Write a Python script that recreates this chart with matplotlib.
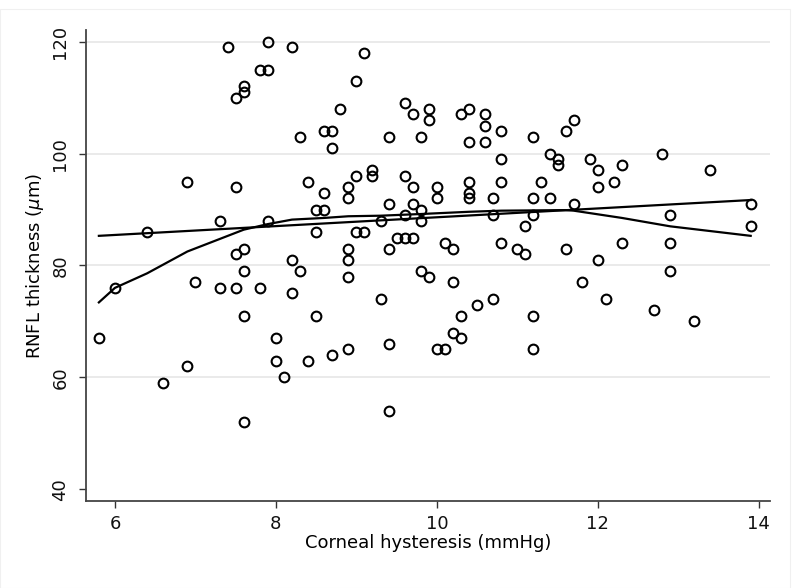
import matplotlib
matplotlib.use("Agg")
import matplotlib.pyplot as plt
from matplotlib.patches import Rectangle

# Corneal hysteresis (mmHg) and RNFL thickness (um)
ch = [7.4, 7.9, 8.2, 9.1, 7.8, 7.9, 7.6, 7.6, 7.5, 9.0, 8.8, 9.6, 9.7, 9.9, 9.9,
      8.3, 8.6, 8.7, 8.7, 9.4, 9.8, 6.9, 7.5, 8.4, 8.6, 8.9, 8.9, 9.0, 9.2, 9.2,
      9.6, 9.7, 9.4, 9.7, 9.6, 9.8, 9.8, 8.5, 8.6, 7.3, 7.9, 6.4, 8.5, 9.0, 9.1,
      9.3, 9.5, 9.6, 9.7, 9.4, 7.5, 7.6, 8.2, 8.3, 7.6, 8.9, 8.9, 8.9, 9.8, 9.9,
      6.0, 7.0, 7.3, 7.5, 7.8, 8.2, 9.3, 7.6, 8.5, 5.8, 8.0, 9.4, 8.9, 8.7, 8.4,
      8.0, 6.9, 8.1, 6.6, 9.4, 7.6,
      10.3, 10.4, 10.6, 10.6, 10.6, 10.4, 10.8, 11.2, 11.6, 11.7, 11.4, 11.5, 11.5,
      10.8, 11.9, 12.0, 12.3, 12.8, 13.4, 10.0, 10.0, 10.4, 10.4, 10.4, 10.8, 10.7,
      11.3, 11.2, 11.4, 12.0, 12.2, 11.7, 13.9, 13.9, 12.9, 10.7, 11.2, 11.1, 10.1,
      10.2, 10.8, 11.0, 11.1, 11.6, 12.0, 12.3, 12.9, 12.9, 10.2, 11.8, 10.7, 10.5,
      10.3, 11.2, 12.1, 12.7, 13.2, 10.2, 10.3, 10.0, 10.1, 11.2]
rnfl = [119, 120, 119, 118, 115, 115, 112, 111, 110, 113, 108, 109, 107, 108, 106,
        103, 104, 104, 101, 103, 103, 95, 94, 95, 93, 94, 92, 96, 97, 96,
        96, 94, 91, 91, 89, 90, 88, 90, 90, 88, 88, 86, 86, 86, 86,
        88, 85, 85, 85, 83, 82, 83, 81, 79, 79, 83, 81, 78, 79, 78,
        76, 77, 76, 76, 76, 75, 74, 71, 71, 67, 67, 66, 65, 64, 63,
        63, 62, 60, 59, 54, 52,
        107, 108, 107, 105, 102, 102, 104, 103, 104, 106, 100, 99, 98,
        99, 99, 97, 98, 100, 97, 94, 92, 95, 93, 92, 95, 92,
        95, 92, 92, 94, 95, 91, 91, 87, 89, 89, 89, 87, 84,
        83, 84, 83, 82, 83, 81, 84, 84, 79, 77, 77, 74, 73,
        71, 71, 74, 72, 70, 68, 67, 65, 65, 65]

# Linear fit line (end points)
fit_x = [5.8, 13.9]
fit_y = [85.3, 91.7]

# Lowess smoother
low_x = [5.8, 6.0, 6.4, 6.9, 7.6, 7.9, 8.2, 8.6, 8.9, 9.3, 9.8, 10.4, 10.8, 11.6, 11.7, 12.3, 12.9, 13.9]
low_y = [73.4, 76.0, 78.6, 82.5, 86.4, 87.4, 88.2, 88.5, 88.8, 88.9, 89.2, 89.6, 89.8, 89.9, 89.8, 88.5, 87.0, 85.3]

yticks = [40, 60, 80, 100, 120]
xticks = [6, 8, 10, 12, 14]

fig = plt.figure(figsize=(8, 5.88), dpi=100)
fig.patches.append(Rectangle((0.0, 0.0), 0.988, 0.984, transform=fig.transFigure,
                             fill=False, edgecolor="#f0f0f0", linewidth=0.8))
ax = fig.add_axes([0.1075, 0.148, 0.855, 0.801])
ax.set_xlim(5.64, 14.14)
ax.set_ylim(37.9, 122.1)

for g in yticks[1:]:
    ax.axhline(g, color="#e6e6e6", linewidth=1.2, zorder=0)

ax.plot(ch, rnfl, linestyle="none", marker="o", markersize=7, markerfacecolor="none",
        markeredgecolor="black", markeredgewidth=1.5, zorder=3)
ax.plot(fit_x, fit_y, color="black", linewidth=1.6, zorder=2)
ax.plot(low_x, low_y, color="black", linewidth=1.6, zorder=2)

ax.set_xticks(xticks)
ax.set_yticks(yticks)
ax.set_yticklabels([str(t) for t in yticks], rotation=90, va="center")
ax.tick_params(axis="both", labelsize=13, length=5, width=1.0, color="#333333", labelcolor="#111111")
ax.tick_params(axis="y", pad=7)
ax.tick_params(axis="x", pad=5)
for s in ["top", "right"]:
    ax.spines[s].set_visible(False)
for s in ["left", "bottom"]:
    ax.spines[s].set_linewidth(1.3)
    ax.spines[s].set_color("#444444")

ax.set_xlabel("Corneal hysteresis (mmHg)", fontsize=13, labelpad=1)
ax.set_ylabel("RNFL thickness ($\\mu$m)", fontsize=13, labelpad=4)

fig.savefig("out.png", dpi=100)
